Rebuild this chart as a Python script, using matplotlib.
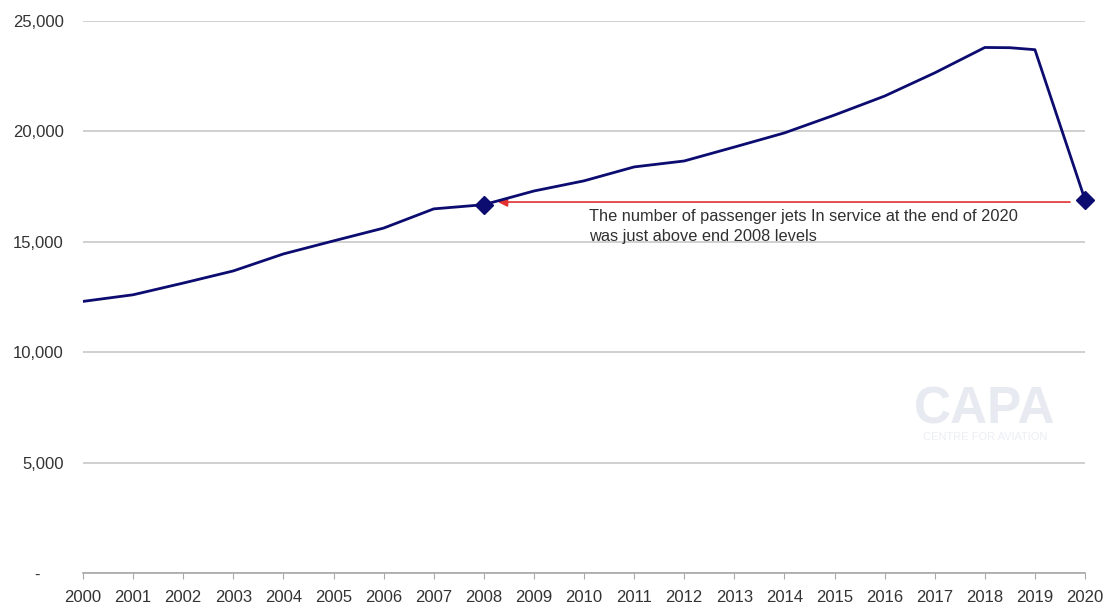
import matplotlib.pyplot as plt
import matplotlib.ticker as mticker

plt.rcParams['font.family'] = ['Liberation Sans', 'DejaVu Sans']

# passenger jets in service
years = [2000, 2001, 2002, 2003, 2004, 2005, 2006, 2007, 2008, 2009,
         2010, 2011, 2012, 2013, 2014, 2015, 2016, 2017, 2018, 2018.5,
         2019, 2020]
fleet = [12300, 12600, 13130, 13680, 14450, 15040, 15620, 16490, 16680, 17300,
         17760, 18390, 18660, 19290, 19930, 20740, 21600, 22650, 23800, 23790,
         23700, 16900]
marked_years = [2008, 2020]
marked_vals = [16680, 16900]

y_ticks = [0, 5000, 10000, 15000, 20000, 25000]
x_ticks = list(range(2000, 2021))

note = ("The number of passenger jets In service at the end of 2020\n"
        "was just above end 2008 levels")

fig = plt.figure(figsize=(11.1, 6.1), dpi=100)
ax = fig.add_axes([0.0748, 0.0607, 0.9027, 0.9049])

ax.plot(years, fleet, color='#0c0c70', lw=2.0, zorder=3)
ax.plot(marked_years, marked_vals, ls='none', marker='D', ms=9,
        color='#0c0c70', zorder=4, clip_on=False)

# red arrow pointing back to the 2008 level
ax.annotate('', xy=(2008.28, 16800), xytext=(2019.7, 16800),
            arrowprops=dict(arrowstyle='-|>', color='#e03030', lw=1.2,
                            mutation_scale=14, shrinkA=0, shrinkB=0),
            zorder=2)
ax.text(2010.1, 16500, note, fontsize=11.8, color='#303030',
        va='top', ha='left', linespacing=1.45)

# faint watermark
ax.text(2018.0, 7400, 'CAPA', fontsize=37, fontweight='bold',
        color='#e8eaf2', ha='center', va='center', zorder=1)
ax.text(2018.0, 6150, 'CENTRE FOR AVIATION', fontsize=8,
        color='#eceef4', ha='center', va='center', zorder=1)

ax.set_xlim(2000, 2020)
ax.set_ylim(0, 25000)
ax.set_yticks(y_ticks)
ax.set_xticks(x_ticks)
ax.yaxis.set_major_formatter(
    mticker.FuncFormatter(lambda v, p: '-     ' if v == 0 else f'{v:,.0f}'))

ax.grid(axis='y', color='#c8c8c8', lw=1.2)
ax.set_axisbelow(True)
for s in ['top', 'right', 'left']:
    ax.spines[s].set_visible(False)
ax.spines['bottom'].set_color('#a8a8a8')
ax.spines['bottom'].set_linewidth(1.2)

ax.tick_params(axis='y', length=0, pad=14, labelsize=12, labelcolor='#333333')
ax.tick_params(axis='x', length=4, color='#a8a8a8', pad=8, labelsize=12,
               labelcolor='#333333')

fig.savefig('out.png', dpi=100)
